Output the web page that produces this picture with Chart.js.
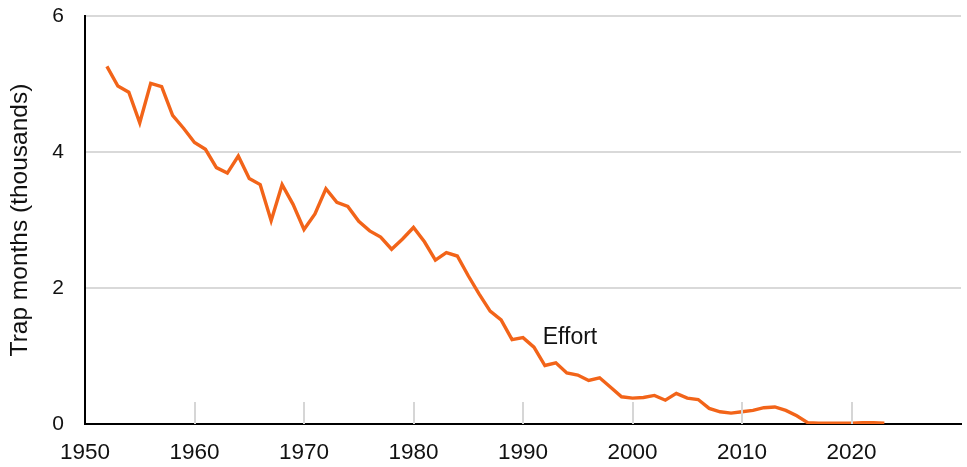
<!DOCTYPE html>
<html>
<head>
<meta charset="utf-8">
<script src="https://cdn.jsdelivr.net/npm/chart.js@4/dist/chart.umd.min.js"></script>
<style>
  html, body { margin: 0; padding: 0; background: #ffffff; }
  #wrap { width: 967px; height: 467px; }
</style>
</head>
<body>
<div id="wrap"><canvas id="c" width="967" height="467"></canvas></div>
<script>
const years = [1952,1953,1954,1955,1956,1957,1958,1959,1960,1961,1962,1963,1964,1965,1966,1967,1968,1969,1970,1971,1972,1973,1974,1975,1976,1977,1978,1979,1980,1981,1982,1983,1984,1985,1986,1987,1988,1989,1990,1991,1992,1993,1994,1995,1996,1997,1998,1999,2000,2001,2002,2003,2004,2005,2006,2007,2008,2009,2010,2011,2012,2013,2014,2015,2016,2017,2018,2019,2020,2021,2022,2023];
const effort = [5.26,4.97,4.88,4.43,5.01,4.96,4.54,4.35,4.14,4.04,3.77,3.69,3.94,3.61,3.52,2.99,3.52,3.23,2.86,3.09,3.46,3.26,3.20,2.98,2.84,2.75,2.57,2.72,2.89,2.68,2.41,2.52,2.47,2.18,1.91,1.66,1.53,1.24,1.27,1.13,0.86,0.90,0.75,0.72,0.64,0.68,0.54,0.40,0.38,0.39,0.42,0.35,0.45,0.38,0.36,0.23,0.18,0.16,0.18,0.20,0.24,0.25,0.20,0.12,0.02,0.01,0.01,0.01,0.01,0.02,0.02,0.01];
const xTickLabels = [1950,1960,1970,1980,1990,2000,2010,2020];
const yTickLabels = [0,2,4,6];
const seriesLabel = "Effort";
const yTitle = "Trap months (thousands)";

const FONT = "'Liberation Sans', Arial, Helvetica, sans-serif";
const TEXT = "#111111";

const innerTicks = {
  id: 'innerTicks',
  afterDatasetsDraw(chart) {
    const {ctx, scales: {x, y}, chartArea} = chart;
    ctx.save();
    ctx.strokeStyle = '#d6d6d6';
    ctx.lineWidth = 2;
    xTickLabels.forEach(v => {
      if (v === xTickLabels[0]) return;
      const px = Math.round(x.getPixelForValue(v));
      ctx.beginPath();
      ctx.moveTo(px, chartArea.bottom);
      ctx.lineTo(px, chartArea.bottom - 22);
      ctx.stroke();
    });
    ctx.fillStyle = TEXT;
    ctx.font = "23px " + FONT;
    ctx.textAlign = 'left';
    ctx.textBaseline = 'middle';
    ctx.fillText(seriesLabel, x.getPixelForValue(1991.8), y.getPixelForValue(1.265));
    ctx.restore();
  }
};

new Chart(document.getElementById('c'), {
  type: 'line',
  data: {
    datasets: [{
      label: seriesLabel,
      data: years.map((yr, i) => ({x: yr, y: effort[i]})),
      borderColor: '#F26419',
      borderWidth: 3.4,
      pointRadius: 0,
      tension: 0,
      fill: false
    }]
  },
  options: {
    responsive: false,
    animation: false,
    devicePixelRatio: 1,
    layout: { padding: { top: 16, right: 6, left: 0, bottom: 0 } },
    plugins: { legend: { display: false }, tooltip: { enabled: false } },
    scales: {
      x: {
        type: 'linear',
        min: 1950, max: 2030,
        afterBuildTicks(scale) { scale.ticks = xTickLabels.map(v => ({value: v})); },
        afterFit(scale) { scale.height = 43; scale.paddingLeft = 0; scale.paddingRight = 0; },
        grid: { display: false, drawTicks: false },
        border: { display: true, color: '#000000', width: 2 },
        ticks: { color: TEXT, font: { family: FONT, size: 22.5 }, padding: 15, maxRotation: 0, autoSkip: false,
                 callback: (v) => String(v) }
      },
      y: {
        min: 0, max: 6,
        afterBuildTicks(scale) { scale.ticks = yTickLabels.map(v => ({value: v})); },
        afterFit(scale) { scale.width = 85; scale.paddingTop = 0; scale.paddingBottom = 0; },
        grid: { color: (c) => c.tick && c.tick.value === 0 ? 'rgba(0,0,0,0)' : '#d9d9d9', lineWidth: 2, drawTicks: false },
        border: { display: true, color: '#000000', width: 2 },
        ticks: { color: TEXT, font: { family: FONT, size: 21 }, padding: 21, callback: (v) => String(v) },
        title: { display: true, text: yTitle, color: TEXT, font: { family: FONT, size: 24.5 }, padding: { top: 6, bottom: 0 } }
      }
    }
  },
  plugins: [innerTicks]
});
</script>
</body>
</html>
